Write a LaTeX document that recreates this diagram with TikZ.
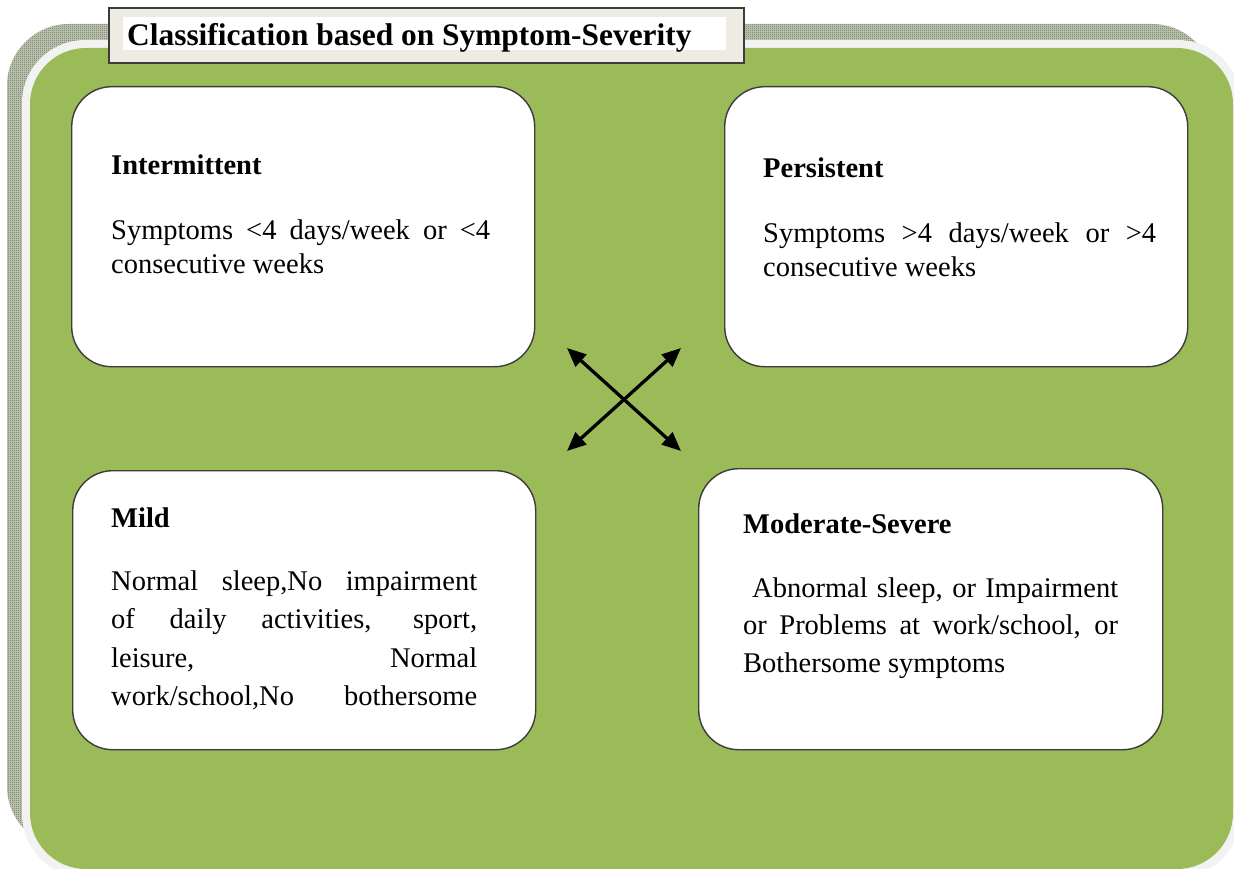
\documentclass[tikz,border=0pt]{standalone}
\usepackage{fontspec}
\setmainfont{Liberation Serif}
\usetikzlibrary{arrows.meta,patterns}
\definecolor{olivegreen}{RGB}{155,187,89}
\definecolor{bandgray}{RGB}{242,242,242}
\definecolor{titlebg}{RGB}{238,236,226}
\definecolor{edgegray}{RGB}{60,60,60}
\definecolor{hatchcol}{RGB}{95,112,75}
\definecolor{hatchbase}{RGB}{196,202,186}
\pgfdeclarepatternformonly{finechecker}{\pgfpointorigin}{\pgfpoint{2pt}{2pt}}{\pgfpoint{2pt}{2pt}}{%
  \pgfpathrectangle{\pgfpointorigin}{\pgfpoint{1pt}{1pt}}%
  \pgfpathrectangle{\pgfpoint{1pt}{1pt}}{\pgfpoint{1pt}{1pt}}%
  \pgfusepath{fill}}
\hyphenpenalty=10000
\begin{document}
\begin{tikzpicture}[x=1pt,y=-1pt,
  cardbox/.style={draw=edgegray, line width=1.4pt, fill=white, rounded corners=40pt,
    anchor=north west, inner sep=0pt},
  headtext/.style={anchor=base west, inner sep=0pt, font=\fontsize{28.5}{34}\selectfont\bfseries},
  bodytext/.style={anchor=base west, inner sep=0pt, align=justify, text width=#1},
  dblarrow/.style={line width=3.3pt, {Triangle[length=19pt,width=16pt]}-{Triangle[length=19pt,width=16pt]}}
]
\useasboundingbox (0,0) rectangle (1234,869);
\begin{scope}
  \clip (0,0) rectangle (1234,869);
  \fill[white] (0,0) rectangle (1234,869);
  \fill[hatchbase, rounded corners=62pt] (7,24) rectangle (1214,848);
  \fill[pattern=finechecker, pattern color=hatchcol, rounded corners=62pt] (7,24) rectangle (1214,848);
  \fill[bandgray, rounded corners=63pt] (22,40) rectangle (1241,877);
  \fill[olivegreen, rounded corners=56pt] (30,48) rectangle (1233,869);
\end{scope}

% title
\node[draw=edgegray, line width=1.6pt, fill=titlebg, minimum width=635pt, minimum height=55pt,
  anchor=north west, inner sep=0pt] (titlebox) at (108,7) {};
\fill[white] (123,17) rectangle (726,50);
\node[anchor=base west, inner sep=0pt, font=\fontsize{31.4}{36}\selectfont\bfseries] (title) at (127,46)
  {Classification based on Symptom-Severity};

% cards
\node[cardbox, minimum width=463pt, minimum height=280pt] (int) at (71,86) {};
\node[cardbox, minimum width=463pt, minimum height=280pt] (per) at (724,86) {};
\node[cardbox, minimum width=463pt, minimum height=279pt] (mild) at (72,470) {};
\node[cardbox, minimum width=464pt, minimum height=281pt] (mod) at (698,468) {};

\node[headtext] (inthead) at (111,175) {Intermittent};
\node[bodytext=379pt, font=\fontsize{28.5}{34}\selectfont] (intbody) at (111,240)
  {Symptoms <4 days/week or <4\linebreak consecutive weeks};

\node[headtext] (perhead) at (763,178) {Persistent};
\node[bodytext=393pt, font=\fontsize{28.5}{35}\selectfont] (perbody) at (763,242)
  {Symptoms >4 days/week or >4\linebreak consecutive weeks};

\node[headtext] (mildhead) at (111,527) {Mild};
\node[bodytext=366pt, font=\fontsize{28.5}{38.5}\selectfont] (mildbody) at (111,590)
  {Normal sleep,No impairment\linebreak of daily activities, sport,\linebreak leisure, Normal\linebreak \makebox[366pt][s]{work/school,No bothersome}};

\node[headtext] (modhead) at (743,533) {Moderate-Severe};
\node[bodytext=375pt, font=\fontsize{28.5}{37.5}\selectfont] (modbody) at (743,597)
  {\hspace*{9pt}Abnormal sleep, or Impairment\linebreak or Problems at work/school, or\linebreak Bothersome symptoms};

% arrows
\coordinate (nw) at (567,348);
\coordinate (ne) at (681,348);
\coordinate (sw) at (567,451);
\coordinate (se) at (681,451);
\draw[dblarrow] (nw) -- (se);
\draw[dblarrow] (ne) -- (sw);
\end{tikzpicture}
\end{document}
